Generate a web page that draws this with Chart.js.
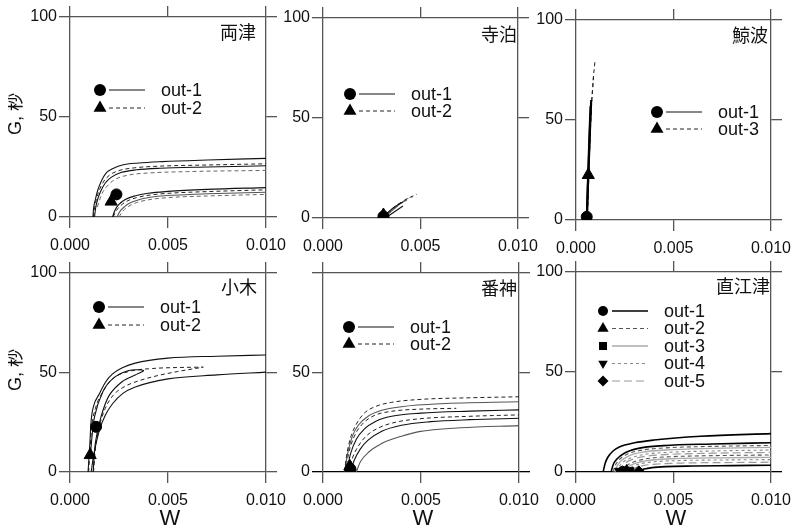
<!DOCTYPE html>
<html lang="ja">
<head>
<meta charset="UTF-8">
<title>G - W curves</title>
<script src="https://cdn.jsdelivr.net/npm/chart.js"></script>
<style>
  html, body { margin: 0; padding: 0; background: #fff; }
  body { width: 799px; height: 532px; position: relative; overflow: hidden; }
  canvas { position: absolute; }
</style>
</head>
<body>
<script>
// ---- data ----
const panelNames = ['両津', '寺泊', '鯨波', '小木', '番神', '直江津'];
const xTicks = [0, 0.005, 0.010];
const yTicks = [0, 50, 100];
const xTitle = 'W';
const yTitle = 'G, 秒';
const legendLabels = [
  ['out-1', 'out-2'], ['out-1', 'out-2'], ['out-1', 'out-3'],
  ['out-1', 'out-2'], ['out-1', 'out-2'],
  ['out-1', 'out-2', 'out-3', 'out-4', 'out-5']
];

// curves: [W, G] pairs
const ryotsuLines = [
  [[0.00117,0],[0.0012,4],[0.0013,9],[0.00142,13.5],[0.0016,18],[0.00183,21.8],[0.0022,24.3],[0.00267,26],[0.0035,27],[0.0047,27.7],[0.007,28.5],[0.01,29.3]],
  [[0.0012,0],[0.00125,4],[0.00135,9],[0.0015,13.5],[0.0017,17.5],[0.002,20.8],[0.0025,23.2],[0.0033,24.6],[0.0045,25.4],[0.007,26],[0.01,26.6]],
  [[0.00125,0],[0.0013,4],[0.0014,8.5],[0.00155,12.5],[0.0018,17],[0.0021,19.8],[0.0026,22.2],[0.0034,23.6],[0.0046,24.4],[0.007,25],[0.01,25.6]],
  [[0.0014,5],[0.0016,11],[0.0019,15.5],[0.0023,18.8],[0.003,21],[0.004,22],[0.006,22.7],[0.01,23.3]],
  [[0.00217,0],[0.0023,3.5],[0.0025,6.3],[0.0028,8.6],[0.0033,10.5],[0.004,11.9],[0.005,12.8],[0.007,13.8],[0.01,14.7]],
  [[0.0022,0],[0.00235,3],[0.0026,5.8],[0.0029,7.9],[0.0034,9.7],[0.0041,11],[0.0051,11.9],[0.007,12.7],[0.01,13.6]],
  [[0.0024,0],[0.00255,2.8],[0.0028,5.3],[0.0031,7.2],[0.0036,8.9],[0.0043,10.1],[0.0053,10.9],[0.007,11.6],[0.01,12.4]],
  [[0.0025,0],[0.0027,3],[0.003,5.4],[0.0034,7.2],[0.004,8.6],[0.005,9.7],[0.007,10.5],[0.01,11.3]]
];
const ryotsuMarks = [[0.00237,11.3],[0.0021,7.7]];

const teradomariLines = [
  [[0.003,0],[0.0033,2.5],[0.0036,5],[0.0039,7],[0.0041,8]],
  [[0.003,0],[0.0034,3.5],[0.0038,6.5],[0.0042,9],[0.0045,10.5],[0.0048,11.8]],
  [[0.0031,0],[0.0034,2.5],[0.0037,5],[0.004,7.5],[0.0043,9]],
  [[0.0031,0],[0.0035,3.5],[0.0039,6.8],[0.0043,9.5],[0.0046,10.5]],
  [[0.0032,0],[0.0035,2],[0.0038,4],[0.0041,6]]
];
const teradomariMarks = [[0.0031,0.8],[0.0031,1.5]];

const kujiranamiLines = [
  [[0.00055,0],[0.0006,15],[0.00065,30],[0.0007,45],[0.00075,57]],
  [[0.00055,0],[0.0006,14],[0.00066,30],[0.00072,46],[0.00078,60]],
  [[0.00058,0],[0.00065,20],[0.00072,40],[0.0008,58],[0.00088,70],[0.00097,79]],
  [[0.00056,0],[0.00064,22],[0.00071,42],[0.00078,56],[0.00086,66],[0.0009,72]]
];
const kujiranamiMarks = [[0.00055,1.6],[0.00063,22.5]];

const ogiLines = [
  [[0.00092,0],[0.001,12],[0.00108,26],[0.0012,33],[0.0015,39.3],[0.0018,45],[0.00217,49.3],[0.0027,52.5],[0.00333,54.7],[0.005,57.2],[0.0075,58.2],[0.01,58.8]],
  [[0.00108,0],[0.0012,8],[0.0015,21],[0.0018,28.5],[0.00217,34.3],[0.0027,39.5],[0.00333,42.7],[0.005,46.8],[0.0075,48.8],[0.01,50.2]],
  [[0.00105,10],[0.00125,27.7],[0.00167,40.2],[0.00217,46.8],[0.003,51],[0.00375,51],[0.00333,48.8],[0.00267,45.5],[0.002,38.5],[0.00158,27.7],[0.0013,15],[0.00118,0]],
  [[0.00095,0],[0.00103,12],[0.0011,22],[0.0013,32],[0.00167,40.2],[0.0022,47],[0.003,50.5],[0.0042,52],[0.0055,52.5],[0.0068,52.7]],
  [[0.0012,0],[0.0013,12],[0.0015,23],[0.0018,32],[0.0022,38.5],[0.0028,43],[0.0035,45.8],[0.0045,48.5],[0.0055,50.5],[0.0068,52.7]]
];
const ogiMarks = [[0.00133,22.7],[0.00103,8.5]];

const banjinLines = [
  [[0.0011,0],[0.0012,8],[0.0014,17],[0.0017,24],[0.0021,29.5],[0.0027,33],[0.0035,35],[0.005,36.5],[0.0075,37.3],[0.01,37.8]],
  [[0.0011,0],[0.00125,9],[0.0015,18],[0.0018,23.5],[0.0023,28],[0.003,31],[0.004,32.8],[0.006,34.3],[0.01,35.3]],
  [[0.00115,0],[0.0013,9],[0.0016,18],[0.002,24],[0.0026,28.3],[0.0035,30.5],[0.005,31.6],[0.0068,32]],
  [[0.0012,0],[0.0014,9],[0.0017,16.5],[0.0021,21.5],[0.0027,25.5],[0.0035,28],[0.005,29.6],[0.0075,30.6],[0.01,31.2]],
  [[0.0013,0],[0.0015,7],[0.0018,13],[0.0022,18],[0.0028,22],[0.0037,25],[0.005,26.8],[0.0075,28],[0.01,28.7]],
  [[0.0014,0],[0.0016,6],[0.0019,11.5],[0.0023,16],[0.003,20.5],[0.004,23.5],[0.0055,25.3],[0.0075,26.3],[0.01,27]],
  [[0.0017,0],[0.0019,5],[0.00237,10.3],[0.0028,13.2],[0.0032,15.3],[0.004,18],[0.0049,20.3],[0.007,22.2],[0.01,23.3]]
];
const banjinMarks = [[0.0014,1.5],[0.00137,2.8]];

const naoetsuLines = [
  [[0.00139,0],[0.0015,4.5],[0.00164,7.5],[0.0019,10.5],[0.00222,12.5],[0.003,14.6],[0.004,16],[0.0064,17.9],[0.01,19.2]],
  [[0.0018,0],[0.0019,3.5],[0.0021,6.5],[0.0025,9.5],[0.0032,11.8],[0.0045,13.2],[0.007,14],[0.01,14.6]],
  [[0.0019,0],[0.002,3],[0.0022,6],[0.0026,8.8],[0.0033,10.8],[0.0045,12],[0.007,12.8],[0.01,13.3]],
  [[0.002,0],[0.0021,2.8],[0.0023,5.5],[0.0027,8],[0.0034,9.9],[0.0046,11],[0.007,11.8],[0.01,12.3]],
  [[0.0021,0],[0.0022,2.5],[0.0024,4.8],[0.0028,7],[0.0035,8.8],[0.0047,9.8],[0.007,10.5],[0.01,11]],
  [[0.0022,0],[0.0023,2.2],[0.0025,4.3],[0.0029,6.3],[0.0036,7.9],[0.0048,8.8],[0.007,9.4],[0.01,9.8]],
  [[0.0024,0],[0.0025,2],[0.0027,3.8],[0.0031,5.5],[0.0038,6.9],[0.005,7.7],[0.0072,8.2],[0.01,8.5]],
  [[0.0025,0],[0.0026,1.7],[0.0028,3.3],[0.0032,4.8],[0.0039,6],[0.0051,6.7],[0.0072,7.1],[0.01,7.3]],
  [[0.0026,0],[0.0027,1.5],[0.0029,2.8],[0.0033,4.1],[0.004,5.1],[0.0052,5.7],[0.0073,6],[0.01,6.2]],
  [[0.0028,0],[0.0029,1.2],[0.0031,2.3],[0.0035,3.3],[0.0042,4],[0.0055,4.5],[0.0075,4.7],[0.01,4.9]],
  [[0.0032,0],[0.0033,0.8],[0.0035,1.5],[0.0039,2.2],[0.0046,2.7],[0.006,3],[0.008,3.2],[0.01,3.4]]
];
const naoetsuMarks = [[0.0024,0.6],[0.0026,0.8],[0.0028,0.6],[0.0022,0.6],[0.00322,0.6]];

// ---- styles and layout ----
const FONT = '"Liberation Sans", Arial, sans-serif';
const CJK = '"Noto Sans CJK JP", sans-serif';
const FRAME = '#555';
const PAD_L = 62, PAD_R = 24, PAD_T = 14;

const lineStyles = {
  s:  { color: '#111', width: 1.1, dash: [] },
  sb: { color: '#000', width: 2.2, dash: [] },
  sg: { color: '#555', width: 1.1, dash: [] },
  d:  { color: '#222', width: 1, dash: [4, 3] },
  dg: { color: '#666', width: 1, dash: [4, 3] },
  s1: { color: '#000', width: 1.6, dash: [] },
  d2: { color: '#555', width: 1.1, dash: [4, 3] },
  s3: { color: '#aaa', width: 1.3, dash: [] },
  d4: { color: '#888', width: 1.1, dash: [3, 3] },
  d5: { color: '#999', width: 1.2, dash: [8, 4] }
};
const chartStyles = {
  circle: { pointStyle: 'circle', rotation: 0 },
  triangle: { pointStyle: 'triangle', rotation: 0 },
  down: { pointStyle: 'triangle', rotation: 180 },
  rect: { pointStyle: 'rect', rotation: 0 },
  diamond: { pointStyle: 'rectRot', rotation: 0 }
};

const panels = [
  { lines: ryotsuLines, marks: ryotsuMarks, styles: ['s','d','s','dg','s','d','sg','dg'],
    plot: [70, 17, 270, 217], padB: 45, titleAt: [256, 32], legendAt: [100, 90, 18],
    legend: [['circle','s'], ['triangle','d']], markSize: [5.5, 7], yTitleAt: [16, 114] },
  { lines: teradomariLines, marks: teradomariMarks, styles: ['s','d','sg','dg','s'],
    plot: [323, 18, 522, 218], padB: 45, titleAt: [517, 34], legendAt: [350, 94, 17],
    legend: [['circle','s'], ['triangle','d']], markSize: [5.5, 7] },
  { lines: kujiranamiLines, marks: kujiranamiMarks, styles: ['sb','sb','d','d'],
    plot: [576, 20, 775, 220], padB: 45, titleAt: [768, 35], legendAt: [657, 112, 17],
    legend: [['circle','s'], ['triangle','d']], markSize: [5.5, 7] },
  { lines: ogiLines, marks: ogiMarks, styles: ['s','s','s','d','d'],
    plot: [70, 273, 270, 472], padB: 60, titleAt: [257, 287], legendAt: [99, 307, 18],
    legend: [['circle','s'], ['triangle','d']], markSize: [5.5, 7], yTitleAt: [16, 370], xTitleAt: [170, 519] },
  { lines: banjinLines, marks: banjinMarks, styles: ['d','sg','d','s','d','s','sg'],
    plot: [323, 273, 523, 472], padB: 60, titleAt: [517, 288], legendAt: [349, 327, 17],
    legend: [['circle','s'], ['triangle','d']], markSize: [5.5, 7], xTitleAt: [423, 519],
    hideTop: true, blackZero: true },
  { lines: naoetsuLines, marks: naoetsuMarks, styles: ['s1','s1','d2','s3','d4','d5','d2','s3','d4','d5','s1'],
    plot: [576, 272, 775, 472], padB: 60, titleAt: [770, 286], legendAt: [603, 311, 17.5],
    legend: [['circle','s1'], ['triangle','d2'], ['rect','s3'], ['down','d4'], ['diamond','d5']],
    markSize: [4.5, 6, 4.5, 5, 5], xTitleAt: [676, 519], blackZero: true }
];

function drawMarker(ctx, type, x, y, r) {
  ctx.beginPath();
  if (type === 'circle') ctx.arc(x, y, r, 0, Math.PI * 2);
  else if (type === 'triangle') { ctx.moveTo(x, y - r); ctx.lineTo(x + r * 0.866, y + r * 0.5); ctx.lineTo(x - r * 0.866, y + r * 0.5); ctx.closePath(); }
  else if (type === 'down') { ctx.moveTo(x, y + r); ctx.lineTo(x + r * 0.866, y - r * 0.5); ctx.lineTo(x - r * 0.866, y - r * 0.5); ctx.closePath(); }
  else if (type === 'rect') ctx.rect(x - r * 0.8, y - r * 0.8, r * 1.6, r * 1.6);
  else if (type === 'diamond') { ctx.moveTo(x, y - r); ctx.lineTo(x + r, y); ctx.lineTo(x, y + r); ctx.lineTo(x - r, y); ctx.closePath(); }
  ctx.fill();
}

// titles, legend and axis names drawn on top of each panel
const overlay = {
  id: 'overlay',
  afterDatasetsDraw(chart, args, opts) {
    const p = opts.panel, i = opts.index;
    const ctx = chart.ctx;
    const ox = p.plot[0] - PAD_L, oy = p.plot[1] - PAD_T;
    ctx.save();
    ctx.fillStyle = '#111';
    ctx.textBaseline = 'middle';
    ctx.font = '18px ' + CJK;
    ctx.textAlign = 'right';
    ctx.fillText(panelNames[i], p.titleAt[0] - ox, p.titleAt[1] - oy);

    const [lx, ly, step] = p.legendAt;
    p.legend.forEach((item, k) => {
      const x = lx - ox, y = ly + k * step - oy;
      ctx.fillStyle = '#000';
      drawMarker(ctx, item[0], x, y, p.markSize[k] + 0.5);
      const st = lineStyles[item[1]];
      ctx.strokeStyle = st.color;
      ctx.lineWidth = Math.min(st.width, 1.3);
      ctx.setLineDash(st.dash);
      ctx.beginPath();
      ctx.moveTo(x + 9, y);
      ctx.lineTo(x + 45, y);
      ctx.stroke();
      ctx.setLineDash([]);
      ctx.fillStyle = '#111';
      ctx.font = '18px ' + FONT;
      ctx.textAlign = 'left';
      ctx.fillText(legendLabels[i][k], x + 61, y + 1);
    });

    if (p.yTitleAt) {
      ctx.save();
      ctx.translate(p.yTitleAt[0] - ox, p.yTitleAt[1] - oy);
      ctx.rotate(-Math.PI / 2);
      ctx.font = '18px ' + FONT + ', ' + CJK;
      ctx.textAlign = 'center';
      ctx.fillStyle = '#111';
      ctx.fillText(yTitle, 0, 0);
      ctx.restore();
    }
    if (p.xTitleAt) {
      ctx.font = '22px ' + FONT;
      ctx.textAlign = 'center';
      ctx.fillStyle = '#111';
      ctx.fillText(xTitle, p.xTitleAt[0] - ox, p.xTitleAt[1] - oy);
    }
    ctx.restore();
  }
};

function isMonotone(pts) {
  for (let k = 1; k < pts.length; k++) if (pts[k][0] < pts[k - 1][0]) return false;
  return true;
}

panels.forEach((p, i) => {
  const canvas = document.createElement('canvas');
  const w = p.plot[2] - p.plot[0] + PAD_L + PAD_R;
  const h = p.plot[3] - p.plot[1] + PAD_T + p.padB;
  canvas.width = w;
  canvas.height = h;
  canvas.style.left = (p.plot[0] - PAD_L) + 'px';
  canvas.style.top = (p.plot[1] - PAD_T) + 'px';
  document.body.appendChild(canvas);

  const datasets = [];
  p.lines.forEach((pts, k) => {
    const st = lineStyles[p.styles[k]];
    const mono = isMonotone(pts);
    datasets.push({
      data: pts.map(q => ({ x: q[0], y: q[1] })),
      showLine: true,
      borderColor: st.color,
      borderWidth: st.width,
      borderDash: st.dash,
      pointRadius: 0,
      cubicInterpolationMode: mono ? 'monotone' : 'default',
      tension: mono ? 0 : 0.3,
      order: 1
    });
  });
  p.marks.forEach((q, k) => {
    const cs = chartStyles[p.legend[k][0]];
    datasets.push({
      data: [{ x: q[0], y: q[1] }],
      showLine: false,
      pointStyle: cs.pointStyle,
      pointRotation: cs.rotation,
      pointRadius: p.markSize[k],
      backgroundColor: '#000',
      borderColor: '#000',
      borderWidth: 1,
      order: 0
    });
  });

  const grid = (zeroBlack) => ({
    drawOnChartArea: false,
    drawTicks: true,
    tickLength: 11,
    lineWidth: 1.3,
    color: c => (zeroBlack && c.tick && c.tick.value === 0) ? '#000' : FRAME
  });
  const tickFont = { family: FONT, size: 16 };

  new Chart(canvas, {
    type: 'scatter',
    data: { datasets },
    options: {
      responsive: false,
      animation: false,
      devicePixelRatio: 1,
      layout: { padding: 0 },
      plugins: { legend: { display: false }, tooltip: { enabled: false }, overlay: { panel: p, index: i } },
      scales: {
        x: {
          type: 'linear', position: 'bottom', min: xTicks[0], max: xTicks[2],
          ticks: { stepSize: xTicks[1], padding: 8, maxRotation: 0, autoSkip: false, color: '#111', font: tickFont,
                   callback: v => v.toFixed(3) },
          grid: grid(false),
          border: { display: true, color: p.blackZero ? '#000' : FRAME, width: 1.3 },
          afterFit: s => { s.height = p.padB; }
        },
        x2: {
          axis: 'x', type: 'linear', position: 'top', min: xTicks[0], max: xTicks[2],
          ticks: { stepSize: xTicks[1], display: false },
          grid: grid(false),
          border: { display: true, color: FRAME, width: 1.3 },
          afterFit: s => { s.height = PAD_T; }
        },
        y: {
          type: 'linear', position: 'left', min: yTicks[0], max: yTicks[2],
          ticks: { stepSize: yTicks[1], padding: 2, color: '#111', font: tickFont,
                   callback: v => (p.hideTop && v === yTicks[2]) ? '' : String(v) },
          grid: grid(p.blackZero),
          border: { display: true, color: FRAME, width: 1.3 },
          afterFit: s => { s.width = PAD_L; }
        },
        y2: {
          axis: 'y', type: 'linear', position: 'right', min: yTicks[0], max: yTicks[2],
          ticks: { stepSize: yTicks[1], display: false },
          grid: grid(p.blackZero),
          border: { display: true, color: FRAME, width: 1.3 },
          afterFit: s => { s.width = PAD_R; }
        }
      }
    },
    plugins: [overlay]
  });
});
</script>
</body>
</html>
